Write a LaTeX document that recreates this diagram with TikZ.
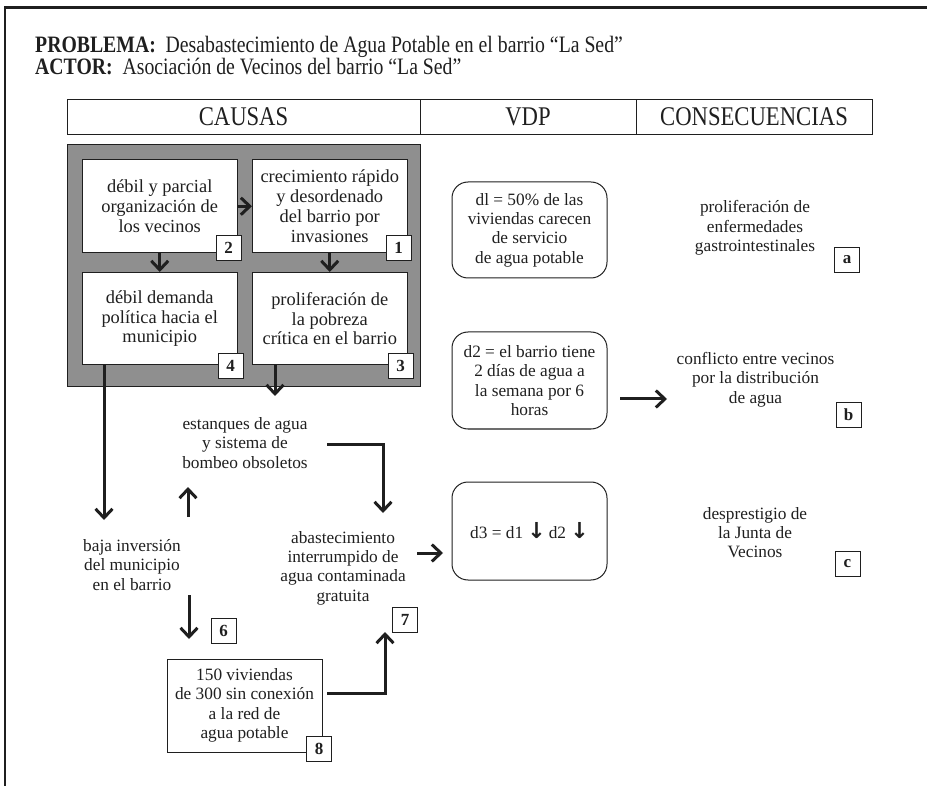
\documentclass[tikz,border=0pt]{standalone}
\usepackage{fontspec}
\setmainfont{Liberation Serif}
\newfontfamily\condfont[FakeStretch=0.84]{Liberation Serif}
\newfontfamily\symfont{DejaVu Sans}
\usetikzlibrary{arrows.meta,calc}
\definecolor{panelgray}{gray}{0.56}
\definecolor{inkgray}{gray}{0.12}

\tikzset{
  every node/.style={font=\fontsize{17.3}{19.3}\selectfont, align=center, inner sep=0pt, text=inkgray},
  cause/.style={draw=inkgray, fill=white, line width=1pt, minimum width=154.5pt, minimum height=92.5pt,
    font=\fontsize{18.4}{19.8}\selectfont},
  tag/.style={draw=inkgray, fill=white, line width=0.9pt, minimum width=25pt, minimum height=25pt,
    font=\fontsize{17}{17}\selectfont\bfseries},
  vdpbox/.style={draw=inkgray, rounded corners=16pt, line width=1pt, minimum width=155pt, minimum height=97pt},
  link/.style={draw=inkgray, line width=3pt, -{Straight Barb[length=9pt,width=17pt]}},
  head/.style={draw=inkgray, line width=0.9pt, minimum height=35pt, font=\condfont\fontsize{27}{27}\selectfont},
  title/.style={anchor=base west, font=\condfont\fontsize{23.5}{23.5}\selectfont},
}

\begin{document}
\begin{tikzpicture}[x=1pt, y=-1pt]
  \useasboundingbox (0,0) rectangle (927,786);

  % page frame (top and left rules)
  \draw[inkgray, line width=2.5pt] (927,7.5) -- (5,7.5) -- (5,786);

  % problem statement
  \node[title] (problema) at (35,53) {\textbf{PROBLEMA:}\ \ Desabastecimiento de Agua Potable en el barrio “La Sed”};
  \node[title] (actor) at (35,75) {\textbf{ACTOR:}\ \ Asociación de Vecinos del barrio “La Sed”};

  % column headings
  \node[head, minimum width=353pt] (hcausas) at (243.5,116.5) {CAUSAS};
  \node[head, minimum width=216pt] (hvdp) at (528,116.5) {VDP};
  \node[head, minimum width=236pt] (hcons) at (754,116.5) {CONSECUENCIAS};

  % grey panel with the four root causes
  \node[draw=inkgray, fill=panelgray, line width=1pt, minimum width=353pt, minimum height=242pt] (panel) at (243.5,266) {};
  \node[cause] (box2) at (159.75,206.25) {débil y parcial\\organización de\\los vecinos};
  \node[cause] (box1) at (329.75,206.25) {crecimiento rápido\\y desordenado\\del barrio por\\invasiones};
  \node[cause] (box4) at (159.75,318.75) {débil demanda\\política hacia el\\municipio};
  \node[cause] (box3) at (329.75,318.75) {proliferación de\\la pobreza\\crítica en el barrio};
  \node[tag] (t2) at ($(box2.south east)+(-9,-5)$) {2};
  \node[tag] (t1) at ($(box1.south east)+(-9,-5)$) {1};
  \node[tag] (t4) at ($(box4.south east)+(-7,0)$) {4};
  \node[tag] (t3) at ($(box3.south east)+(-7,0)$) {3};

  \draw[link] (box2) -- (box1);
  \draw[link] (box2.south) -- (box4.north);
  \draw[link] (box1.south) -- (box3.north);

  % secondary causes
  \node (estanques) at (245,443) {estanques de agua\\y sistema de\\bombeo obsoletos};
  \node (baja) at (132,565) {baja inversión\\del municipio\\en el barrio};
  \node (abast) at (343,568) {abastecimiento\\interrumpido de\\agua contaminada\\gratuita};
  \node[draw=inkgray, line width=1pt, minimum width=155pt, minimum height=93pt] (box8) at (244.5,705.5)
    {150 viviendas\\de 300 sin conexión\\a la red de\\agua potable};
  \node[tag] (t8) at ($(box8.south east)+(-3.5,-3.5)$) {8};
  \node[tag] (t6) at (223.5,630.5) {6};
  \node[tag] (t7) at (405,619.5) {7};

  \coordinate (bajaIn) at (104,520);
  \coordinate (estIn) at (275,396);
  \coordinate (estOut) at (327,444);
  \coordinate (abastIn) at (383,513);
  \coordinate (upFrom) at (188,517);
  \coordinate (upTo) at (188,487);
  \coordinate (downFrom) at (189,595);
  \coordinate (downTo) at (189,639);
  \coordinate (out8) at (327,693);
  \coordinate (in7) at (385,632);
  \coordinate (abastOut) at (417,553);
  \coordinate (vdpIn) at (443,553);

  \draw[link] (box4.south -| bajaIn) -- (bajaIn);
  \draw[link] (box3.south -| estIn) -- (estIn);
  \draw[link] (estOut) -| (abastIn);
  \draw[link] (upFrom) -- (upTo);
  \draw[link] (downFrom) -- (downTo);
  \draw[link] (out8) -| (in7);
  \draw[link] (abastOut) -- (vdpIn);

  % VDP descriptors
  \node[vdpbox, minimum height=96pt] (d1) at (529.5,230)
    {dl = 50\% de las\\viviendas carecen\\de servicio\\de agua potable};
  \node[vdpbox] (d2) at (529.5,380.5)
    {d2 = el barrio tiene\\2 días de agua a\\la semana por 6\\horas};
  \node[vdpbox, minimum height=98pt] (d3) at (529.5,531)
    {d3 = d1 {\symfont\bfseries\fontsize{22}{22}\selectfont ↓}\,d2 {\symfont\bfseries\fontsize{22}{22}\selectfont ↓}};

  % consequences
  \node (consA) at (755,228) {proliferación de\\enfermedades\\gastrointestinales};
  \node (consB) at (755.5,379.5) {conflicto entre vecinos\\por la distribución\\de agua};
  \node (consC) at (755,532.5) {desprestigio de\\la Junta de\\Vecinos};
  \node[tag] (ta) at (847,259.5) {a};
  \node[tag] (tb) at (848.5,415) {b};
  \node[tag] (tc) at (847.5,564) {c};

  \coordinate (d2Out) at (620,399);
  \coordinate (consBIn) at (667,399);
  \draw[link] (d2Out) -- (consBIn);
\end{tikzpicture}
\end{document}
